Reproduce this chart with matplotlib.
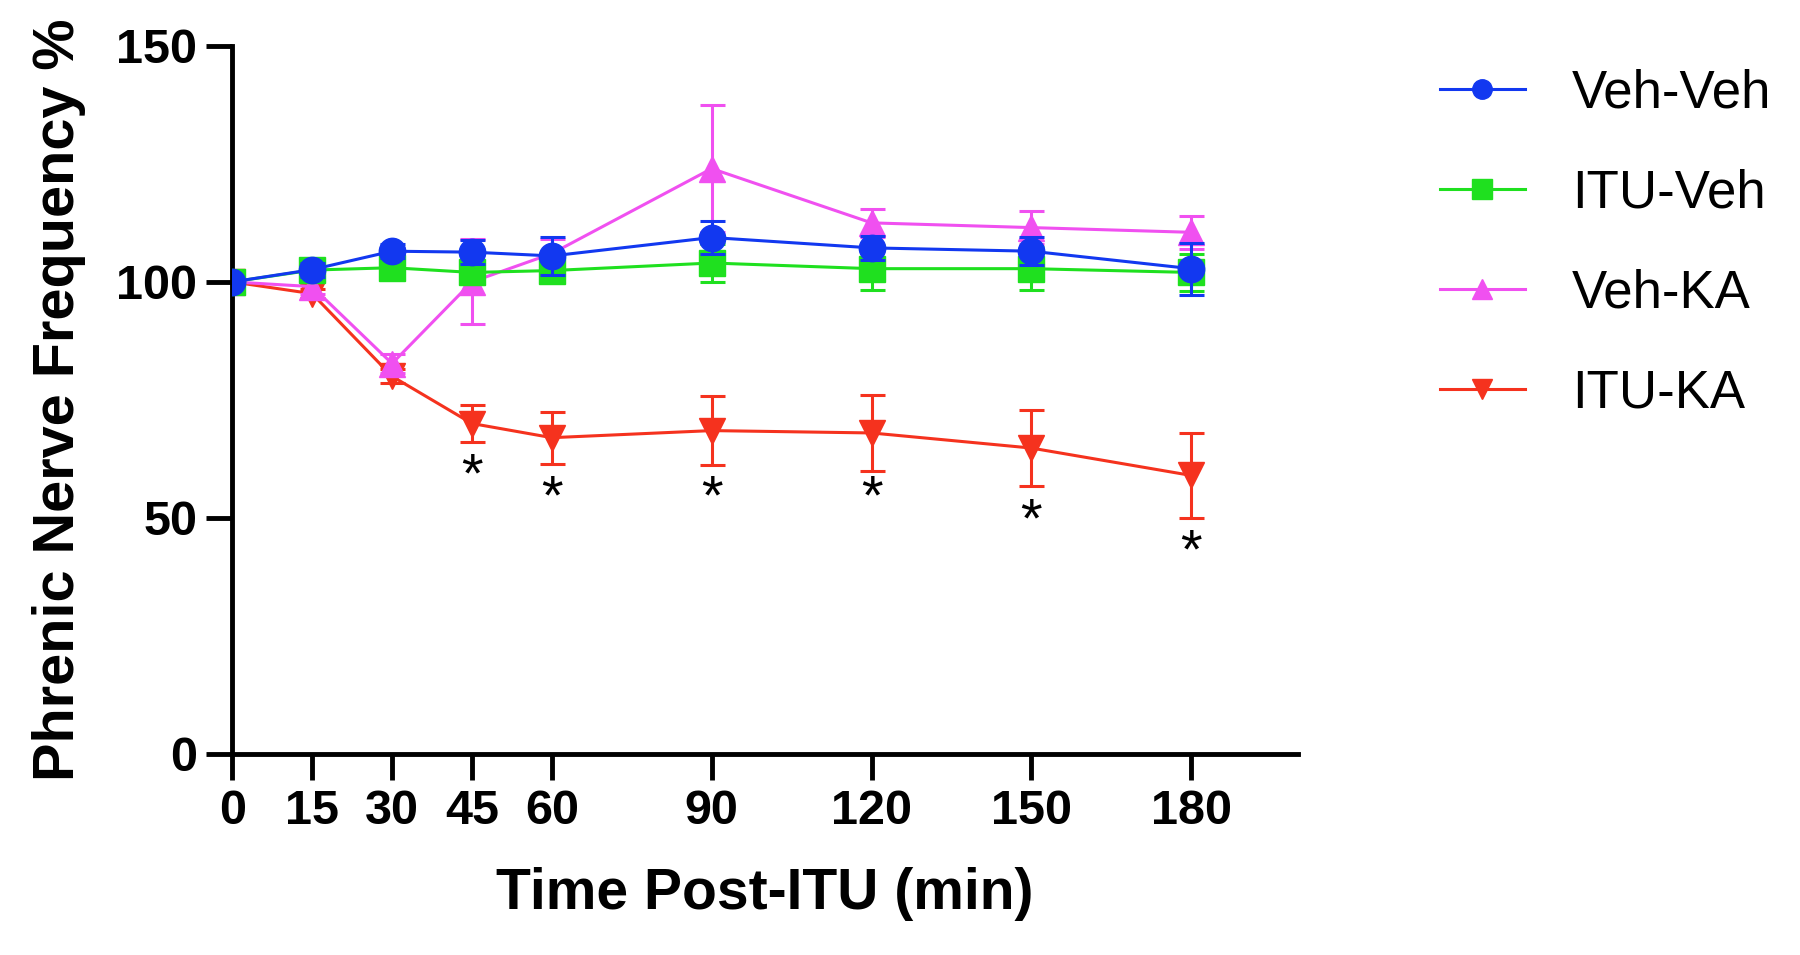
import matplotlib
matplotlib.use("Agg")
import matplotlib.pyplot as plt
from matplotlib.lines import Line2D

# tiempos (min)
tiempo = [0, 15, 30, 45, 60, 90, 120, 150, 180]

veh_veh = [100, 102.6, 106.5, 106.3, 105.5, 109.4, 107.2, 106.5, 102.8]
veh_veh_err = [0, 1.5, 1.5, 2.5, 4.0, 3.5, 2.5, 3.0, 5.5]

itu_veh = [100, 102.5, 103.0, 102.0, 102.4, 104.0, 102.8, 102.8, 102.0]
itu_veh_err = [0, 1.5, 1.5, 2.5, 2.5, 4.0, 4.5, 4.5, 4.0]

veh_ka = [100, 99.0, 82.7, 100.0, 106.0, 124.0, 112.5, 111.5, 110.5]
veh_ka_err = [0, 1.5, 2.0, 9.0, 3.0, 13.5, 3.0, 3.5, 3.5]

itu_ka = [100, 97.5, 80.0, 70.0, 67.0, 68.5, 68.0, 64.8, 59.0]
itu_ka_err = [0, 1.0, 1.5, 4.0, 5.5, 7.3, 8.0, 8.0, 9.0]

# asteriscos de significancia
star_x = [45, 60, 90, 120, 150, 180]
star_y = [58.5, 54.0, 54.0, 54.0, 49.0, 42.5]

series = [
    ("ITU-KA", itu_ka, itu_ka_err, "#f5321e", "v", 1),
    ("Veh-KA", veh_ka, veh_ka_err, "#f050f0", "^", 2),
    ("ITU-Veh", itu_veh, itu_veh_err, "#1fe01f", "s", 3),
    ("Veh-Veh", veh_veh, veh_veh_err, "#1238f0", "o", 4),
]

plt.rcParams["font.family"] = ["Liberation Sans", "DejaVu Sans"]

fig = plt.figure(figsize=(18, 9.55), dpi=100)
ax = fig.add_axes([0.129, 0.2105, 0.592, 0.7415])

handles = {}
for nombre, y, err, color, marker, z in series:
    ax.errorbar(tiempo, y, yerr=err, color=color, marker=marker,
                markersize=19, linewidth=2.2, elinewidth=2.2,
                capsize=9, capthick=2.2, zorder=z)
    # legend sin barras de error
    handles[nombre] = Line2D([], [], color=color, marker=marker,
                             markersize=14, linewidth=2.2)

for x, y in zip(star_x, star_y):
    ax.text(x, y, "*", ha="center", va="center", fontsize=40,
            color="black")

ax.set_xlim(0, 200)
ax.set_ylim(0, 150)
ax.set_xticks(tiempo)
ax.set_yticks([0, 50, 100, 150])
ax.tick_params(axis="both", labelsize=35, width=3.5, length=19, pad=6)
for lbl in ax.get_xticklabels() + ax.get_yticklabels():
    lbl.set_fontweight("bold")

for lado in ["top", "right"]:
    ax.spines[lado].set_visible(False)
for lado in ["left", "bottom"]:
    ax.spines[lado].set_linewidth(3.5)
ax.spines["left"].set_bounds(0, 150)
ax.spines["bottom"].set_bounds(0, 200)

ax.set_xlabel("Time Post-ITU (min)", fontsize=41, fontweight="bold", labelpad=24)
ax.set_ylabel("Phrenic Nerve Frequency %", fontsize=41.5, fontweight="bold", labelpad=22)

orden = ["Veh-Veh", "ITU-Veh", "Veh-KA", "ITU-KA"]
leg = ax.legend([handles[n] for n in orden], orden, loc="upper left",
                bbox_to_anchor=(1.089, 1.035), frameon=False, fontsize=38,
                handlelength=1.6, labelspacing=0.95, handletextpad=0.9)

fig.savefig("out.png", dpi=100)
